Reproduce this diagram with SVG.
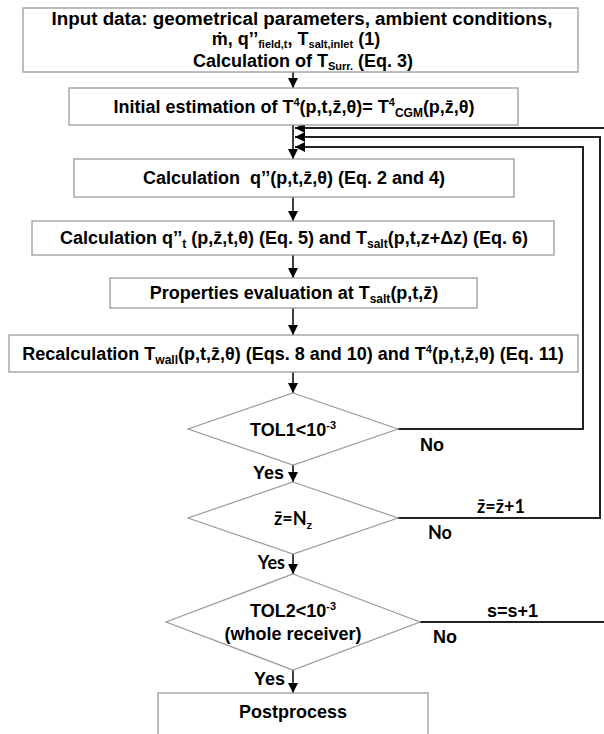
<svg xmlns="http://www.w3.org/2000/svg" width="604" height="734" viewBox="0 0 604 734">
<style>
  .box { fill: #fff; stroke: #9a9a9a; stroke-width: 1.3; }
  .dia { fill: #fff; stroke: #9a9a9a; stroke-width: 1.2; }
  .t { font-family: "Liberation Sans", Arial, sans-serif; font-weight: bold; font-size: 18px; fill: #000; }
  .c { text-anchor: middle; }
  .cal { font-family: Lato, "Liberation Sans", sans-serif; font-weight: bold; font-size: 18px; fill: #000; }
  .sub { font-size: 12px; }
  .sub1 { font-size: 11px; }
  .sup { font-size: 11px; }
  .conn { fill: none; stroke: #000; stroke-width: 1.5; }
  .fb { fill: none; stroke: #222; stroke-width: 2; }
</style>
<defs>
  <marker id="ah" markerUnits="userSpaceOnUse" markerWidth="10" markerHeight="10" refX="10" refY="5" orient="auto">
    <path d="M0,0 L10,5 L0,10 z" fill="#000"/>
  </marker>
</defs>

<g id="connectors">
  <path class="conn" d="M293,72 V88" marker-end="url(#ah)"/>
  <path class="conn" d="M293,125 V159" marker-end="url(#ah)"/>
  <path class="conn" d="M293,197 V221" marker-end="url(#ah)"/>
  <path class="conn" d="M293,255 V278" marker-end="url(#ah)"/>
  <path class="conn" d="M293,308 V335" marker-end="url(#ah)"/>
  <path class="conn" d="M293,372 V393" marker-end="url(#ah)"/>
  <path class="conn" d="M293,465 V482" marker-end="url(#ah)"/>
  <path class="conn" d="M293,554 V574" marker-end="url(#ah)"/>
  <path class="conn" d="M293,670 V693" marker-end="url(#ah)"/>
  <path class="fb" d="M398,429 H583 V147 H295" marker-end="url(#ah)"/>
  <path class="fb" d="M398,518 H600 V137 H295" marker-end="url(#ah)"/>
  <path class="fb" d="M420,622 H612 V128 H295" marker-end="url(#ah)"/>
  <text class="t" x="420" y="451">No</text>
  <text class="cal" x="477" y="513">z&#x304;=z&#x304;+1</text>
  <text class="cal" x="428" y="539">No</text>
  <text class="t" x="487" y="617">s=s+1</text>
  <text class="t" x="433" y="643">No</text>
  <text class="t" x="284" y="479" text-anchor="end">Yes</text>
  <text class="cal" x="285" y="569" text-anchor="end">Yes</text>
  <text class="t" x="285" y="685" text-anchor="end">Yes</text>
</g>

<g id="input">
  <rect class="box" x="23" y="8" width="555" height="64"/>
  <text class="t c" x="302" y="25" style="font-size:18.8px">Input data: geometrical parameters, ambient conditions,</text>
  <text class="t c" x="296" y="45">ṁ, q’’<tspan class="sub1" dy="3">field,t</tspan><tspan dy="-3">, T</tspan><tspan class="sub1" dy="3">salt,inlet</tspan><tspan dy="-3"> (1)</tspan></text>
  <text class="t c" x="303" y="67">Calculation of T<tspan class="sub1" dy="3">Surr.</tspan><tspan dy="-3"> (Eq. 3)</tspan></text>
</g>

<g id="init">
  <rect class="box" x="69" y="88" width="449" height="37"/>
  <text class="t c" x="294" y="113">Initial estimation of T<tspan class="sup" dy="-7">4</tspan><tspan dy="7">(p,t,z&#x304;,θ)= T</tspan><tspan class="sup" dy="-7">4</tspan><tspan class="sub" dy="11">CGM</tspan><tspan dy="-4">(p,z&#x304;,θ)</tspan></text>
</g>

<g id="calc-q">
  <rect class="box" x="74" y="159" width="440" height="38"/>
  <text class="t c" x="294" y="184">Calculation&#160; q’’(p,t,z&#x304;,θ) (Eq. 2 and 4)</text>
</g>

<g id="calc-qt">
  <rect class="box" x="32" y="221" width="522" height="34"/>
  <text class="t c" x="294" y="244">Calculation q’’<tspan class="sub" dy="4">t</tspan><tspan dy="-4"> (p,z&#x304;,t,θ) (Eq. 5) and T</tspan><tspan class="sub" dy="4">salt</tspan><tspan dy="-4">(p,t,z+Δz) (Eq. 6)</tspan></text>
</g>

<g id="props">
  <rect class="box" x="110" y="278" width="367" height="30"/>
  <text class="t c" x="294" y="299">Properties evaluation at T<tspan class="sub" dy="4">salt</tspan><tspan dy="-4">(p,t,z&#x304;)</tspan></text>
</g>

<g id="recalc">
  <rect class="box" x="9" y="335" width="569" height="37"/>
  <text class="t c" x="293" y="360">Recalculation T<tspan class="sub" dy="4">wall</tspan><tspan dy="-4">(p,t,z&#x304;,θ) (Eqs. 8 and 10) and T</tspan><tspan class="sup" dy="-7">4</tspan><tspan dy="7">(p,t,z&#x304;,θ) (Eq. 11)</tspan></text>
</g>

<g id="tol1">
  <polygon class="dia" points="293,393 398,429 293,465 188,429"/>
  <text class="t c" x="293" y="436">TOL1&lt;10<tspan class="sup" dy="-7">-3</tspan></text>
</g>

<g id="znz">
  <polygon class="dia" points="293,482 398,518 293,554 188,518"/>
  <text class="cal c" x="293" y="525">z&#x304;=N<tspan class="sub" dy="4">z</tspan></text>
</g>

<g id="tol2">
  <polygon class="dia" points="293,574 420,622 293,670 166,622"/>
  <text class="t c" x="293" y="617">TOL2&lt;10<tspan class="sup" dy="-7">-3</tspan></text>
  <text class="t c" x="293" y="640">(whole receiver)</text>
</g>

<g id="post">
  <rect class="box" x="158" y="693" width="270" height="50"/>
  <text class="t c" x="293" y="718">Postprocess</text>
</g>
</svg>
